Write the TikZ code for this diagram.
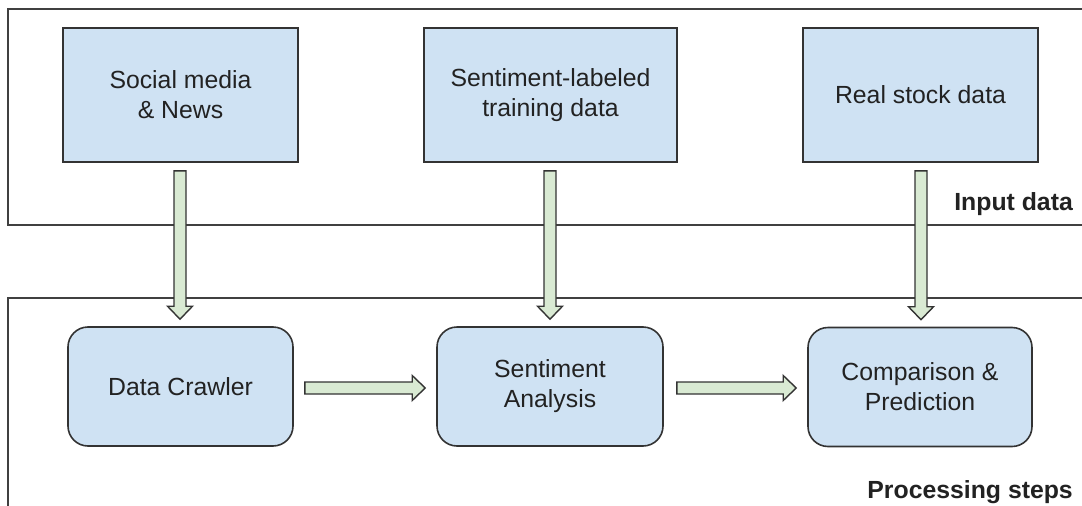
\documentclass[tikz,border=0pt]{standalone}
\usepackage{fontspec}
\setmainfont{Liberation Sans}
\usetikzlibrary{calc}
\definecolor{boxblue}{HTML}{CFE2F3}
\definecolor{arrgreen}{HTML}{D9EAD3}
\definecolor{edgecol}{HTML}{333333}
\definecolor{framecol}{HTML}{404040}
\definecolor{txtcol}{HTML}{222222}
\begin{document}
\begin{tikzpicture}[x=1pt,y=-1pt,
  inbox/.style={draw=edgecol, line width=1.6pt, fill=boxblue, minimum height=134pt,
    align=center, text=txtcol, font=\fontsize{24.8}{30}\selectfont, inner sep=0pt},
  stepbox/.style={inbox, rounded corners=20pt, minimum height=119pt},
  grouprule/.style={draw=framecol, line width=1.6pt},
  grouplabel/.style={anchor=base east, inner sep=0pt, text=txtcol,
    font=\fontsize{24.8}{30}\selectfont\bfseries},
  fatarrow/.style={draw=edgecol, line width=1.4pt, fill=arrgreen, line join=miter,
    to path={
      ($(\tikztotarget)!13pt!(\tikztostart)$) coordinate (faq)
      ($(\tikztostart)!6pt!90:(\tikztotarget)$)
      -- ($(faq)!6pt!90:(\tikztotarget)$)
      -- ($(faq)!12.5pt!90:(\tikztotarget)$)
      -- (\tikztotarget)
      -- ($(faq)!12.5pt!-90:(\tikztotarget)$)
      -- ($(faq)!6pt!-90:(\tikztotarget)$)
      -- ($(\tikztostart)!6pt!-90:(\tikztotarget)$)
      -- cycle}}
]
\useasboundingbox (0,0) rectangle (1082,506);
\fill[white] (0,0) rectangle (1082,506);

% group frames
\draw[grouprule] (1095,9) -- (8,9) -- (8,225) -- (1095,225);
\draw[grouprule] (1095,298) -- (8,298) -- (8,515);

% input boxes
\node[inbox, minimum width=235pt] (soc) at (180.5,95) {Social media\\\& News};
\node[inbox, minimum width=253pt] (lab) at (550.5,95) {Sentiment-labeled\\training data};
\node[inbox, minimum width=235pt] (stk) at (920.5,95) {Real stock data};

% processing steps
\node[stepbox, minimum width=225pt] (dc) at (180.5,386.5) {Data Crawler};
\node[stepbox, minimum width=226pt] (sa) at (550,386.5) {Sentiment\\Analysis};
\node[stepbox, minimum width=224pt] (cp) at (920,387) {Comparison \&\\Prediction};

% labels
\node[grouplabel] (inlab) at (1073,210) {Input data};
\node[grouplabel] (prlab) at (1073,498) {Processing steps};

% connectors
\draw[fatarrow] ($(soc.south)+(-0.5,8)$) to ($(dc.north)+(-0.5,-7)$);
\draw[fatarrow] ($(lab.south)+(-0.5,8)$) to ($(sa.north)+(0,-7)$);
\draw[fatarrow] ($(stk.south)+(0.5,8)$) to ($(cp.north)+(1,-7)$);
\draw[fatarrow] ($(dc.east)+(11,1.5)$) to ($(sa.west)+(-11,1.5)$);
\draw[fatarrow] ($(sa.east)+(13,1.5)$) to ($(cp.west)+(-11,1)$);
\end{tikzpicture}
\end{document}
